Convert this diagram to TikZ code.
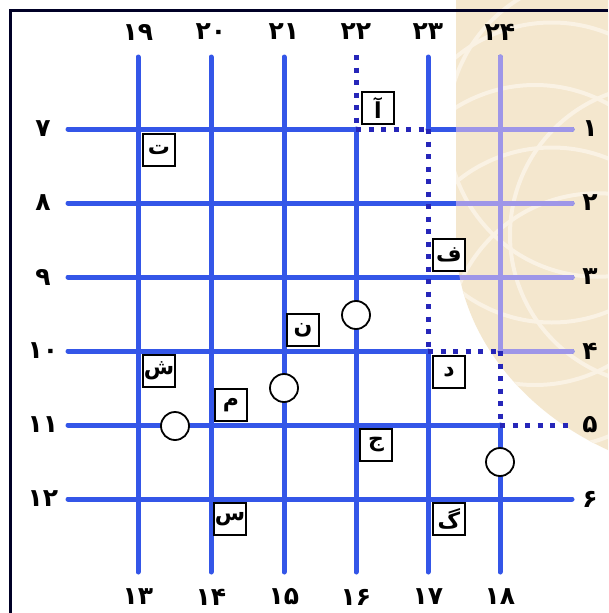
\documentclass[tikz,border=0pt]{standalone}
\usepackage{fontspec}
\newfontfamily\fa[Script=Arabic]{DejaVu Sans}
\TeXXeTstate=1
\definecolor{gridblue}{RGB}{52,86,232}
\definecolor{lavender}{RGB}{158,150,232}
\definecolor{dotblue}{RGB}{38,38,185}
\definecolor{beige}{RGB}{244,231,206}
\definecolor{beigelight}{RGB}{250,242,228}
\begin{document}
\begin{tikzpicture}[x=1pt,y=-1pt,
  gridline/.style={gridblue,line width=5pt,line cap=round},
  pathline/.style={dotblue,line width=5pt,dash pattern=on 5pt off 7.5pt},
  letterbox/.style={draw=black,line width=1.8pt,fill=white,minimum width=32pt,minimum height=32pt,inner sep=0pt,font=\fa\bfseries\fontsize{22}{22}\selectfont},
  ring/.style={circle,draw=black,line width=1.8pt,fill=white,minimum size=28pt,inner sep=0pt},
  numlabel/.style={font=\fa\bfseries\fontsize{25}{25}\selectfont,inner sep=0pt}]
\useasboundingbox (0,0) rectangle (608,613);
\fill[white] (0,0) rectangle (608,613);
% beige watermark region
\def\beigeregion{(456,0) -- (456,240) .. controls (456,330) and (520,410) .. (608,450) -- (608,0) -- cycle}
\fill[beige] \beigeregion;
\begin{scope}
\clip \beigeregion;
\foreach \a in {120,150,180,210,240}
  \draw[beigelight,line width=4pt] ({660+125*cos(\a)},{235-125*sin(\a)}) circle (150);
\draw[beigelight,line width=4pt] (660,235) circle (150);
\end{scope}
% frame
\draw[black!85!blue,line width=3pt] (10,613) -- (10,10) -- (608,10);
% grid coordinates
\foreach \n/\x in {19/138,20/211,21/284,22/356,23/428,24/500}{
  \coordinate (t\n) at (\x,57);
  \coordinate (b\n) at (\x,572);
}
\foreach \n/\y in {7/129,8/203,9/277,10/351,11/425,12/499}{
  \coordinate (l\n) at (68,\y);
  \coordinate (r\n) at (572,\y);
}
\foreach \c/\x in {19/138,20/211,21/284,22/356,23/428,24/500}
  \foreach \r/\y in {7/129,8/203,9/277,10/351,11/425,12/499}
    \coordinate (p\c-\r) at (\x,\y);
% solid grid lines
\def\gridlines{%
\draw[gridline] (t19) -- (b19);
\draw[gridline] (t20) -- (b20);
\draw[gridline] (t21) -- (b21);
\draw[gridline] (p22-7) -- (b22);
\draw[gridline] (t23) -- (p23-7);
\draw[gridline] (p23-10) -- (b23);
\draw[gridline] (t24) -- (p24-10);
\draw[gridline] (p24-11) -- (b24);
\draw[gridline] (l7) -- (p22-7);
\draw[gridline] (p23-7) -- (r7);
\draw[gridline] (l8) -- (r8);
\draw[gridline] (l9) -- (r9);
\draw[gridline] (l10) -- (p23-10);
\draw[gridline] (p24-10) -- (r10);
\draw[gridline] (l11) -- (p24-11);
\draw[gridline] (l12) -- (r12);}
\gridlines
% lighter lines under watermark
\begin{scope}[gridline/.append style={lavender}]
\clip \beigeregion;
\gridlines
\end{scope}
% dotted route
\coordinate (start) at (356,55);
\draw[pathline] (start) -- (p22-7);
\draw[pathline] (p22-7) -- (p23-7);
\draw[pathline] (p23-7) -- (p23-10);
\draw[pathline] (p23-10) -- (p24-10);
\draw[pathline] (p24-10) -- (p24-11);
\draw[pathline] (p24-11) -- (r11);
% letter boxes
\node[letterbox] (alef) at (378,108) {\beginR آ\endR};
\node[letterbox] (te) at (159,150) {\beginR ت\endR};
\node[letterbox] (fe) at (449,255) {\beginR ف\endR};
\node[letterbox] (nun) at (303,330) {\beginR ن\endR};
\node[letterbox] (shin) at (159,371) {\beginR ش\endR};
\node[letterbox] (dal) at (449,372) {\beginR د\endR};
\node[letterbox] (mim) at (231,405) {\beginR م\endR};
\node[letterbox] (jim) at (376,445) {\beginR ج\endR};
\node[letterbox] (sin) at (230,519) {\beginR س\endR};
\node[letterbox] (gaf) at (449,519) {\beginR گ\endR};
% rings
\node[ring] (o1) at (356,315) {};
\node[ring] (o2) at (284,388) {};
\node[ring] (o3) at (175,426) {};
\node[ring] (o4) at (500,462) {};
% labels
\foreach \n/\x/\s in {19/138/۱۹,20/211/۲۰,21/284/۲۱,22/356/۲۲,23/428/۲۳,24/500/۲۴}
  \node[numlabel] (top\n) at (\x,32) {\s};
\foreach \n/\x/\s in {13/138/۱۳,14/211/۱۴,15/284/۱۵,16/356/۱۶,17/428/۱۷,18/500/۱۸}
  \node[numlabel] (bot\n) at (\x,597) {\s};
\foreach \n/\y/\s in {7/129/۷,8/203/۸,9/277/۹,10/351/۱۰,11/425/۱۱,12/499/۱۲}
  \node[numlabel] (left\n) at (43,\y) {\s};
\foreach \n/\y/\s in {1/129/۱,2/203/۲,3/277/۳,4/351/۴,5/425/۵,6/499/۶}
  \node[numlabel] (right\n) at (590,\y) {\s};
\end{tikzpicture}
\end{document}
